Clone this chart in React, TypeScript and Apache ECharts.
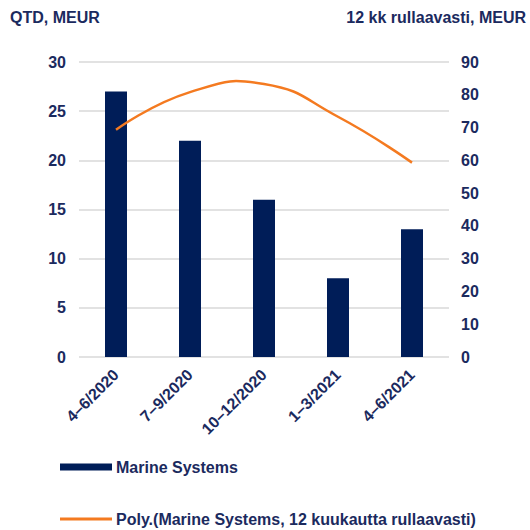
import React, { useEffect, useRef } from "react";
import * as echarts from "echarts";

const categories = ["4–6/2020", "7–9/2020", "10–12/2020", "1–3/2021", "4–6/2021"];
const quarterValues = [27, 22, 16, 8, 13];
const rollingTrend = [69.3, 80.8, 83.3, 73.3, 59.3];
const leftTicks = { min: 0, max: 30, interval: 5 };
const rightTicks = { min: 0, max: 90, interval: 10 };
const barName = "Marine Systems";
const lineName = "Poly.(Marine Systems, 12 kuukautta rullaavasti)";
const leftTitle = "QTD, MEUR";
const rightTitle = "12 kk rullaavasti, MEUR";

const NAVY = "#1b2a5e";
const BAR = "#001d58";
const ORANGE = "#f47a20";
const FONT = "'Liberation Sans', Arial, sans-serif";

export default function App() {
  const ref = useRef<HTMLDivElement>(null);
  useEffect(() => {
    if (!ref.current) return;
    const chart = echarts.init(ref.current, null, { renderer: "svg" });
    const labelStyle = { color: NAVY, fontSize: 16, fontWeight: "bold" as const, fontFamily: FONT };
    chart.setOption({
      animation: false,
      backgroundColor: "#ffffff",
      textStyle: { fontFamily: FONT },
      grid: { left: 79, right: 81, top: 62, bottom: 173, containLabel: false },
      graphic: [
        { type: "text", left: 10, top: 9, style: { text: leftTitle, fill: NAVY, font: `bold 16px ${FONT}` } },
        { type: "text", right: 4, top: 9, style: { text: rightTitle, fill: NAVY, font: `bold 16px ${FONT}` } },
      ],
      legend: [
        {
          orient: "vertical",
          left: 60,
          top: 459,
          padding: 0,
          itemWidth: 52,
          itemHeight: 7,
          textStyle: { ...labelStyle, padding: [0, 0, 0, -1] },
          data: [{ name: barName, icon: "rect" }],
        },
        {
          orient: "vertical",
          left: 60,
          top: 511,
          padding: 0,
          itemWidth: 52,
          itemHeight: 3,
          textStyle: { ...labelStyle, padding: [0, 0, 0, -1] },
          data: [{ name: lineName, icon: "rect" }],
        },
      ],
      xAxis: {
        type: "category",
        data: categories,
        axisLine: { show: false },
        axisTick: { show: false },
        axisLabel: { ...labelStyle, rotate: 45, margin: 15, interval: 0 },
      },
      yAxis: [
        {
          type: "value",
          ...leftTicks,
          axisLine: { show: false },
          axisTick: { show: false },
          axisLabel: { ...labelStyle, margin: 13 },
          splitLine: { lineStyle: { color: "#d9d9d9", width: 1.5 } },
        },
        {
          type: "value",
          ...rightTicks,
          position: "right",
          axisLine: { show: false },
          axisTick: { show: false },
          axisLabel: { ...labelStyle, margin: 12 },
          splitLine: { show: false },
        },
      ],
      series: [
        {
          name: barName,
          type: "bar",
          data: quarterValues,
          barWidth: 22,
          itemStyle: { color: BAR },
          yAxisIndex: 0,
          z: 2,
        },
        {
          name: lineName,
          type: "custom",
          yAxisIndex: 1,
          z: 5,
          data: rollingTrend.map((v, i) => [i, v]),
          encode: { x: 0, y: 1 },
          itemStyle: { color: ORANGE },
          renderItem: (params: any, api: any) => {
            if (params.dataIndex !== 0) return null;
            const pts = rollingTrend.map((v, i) => api.coord([i, v]));
            return {
              type: "polyline",
              z2: 10,
              shape: { points: pts, smooth: 0.5 },
              style: { stroke: ORANGE, lineWidth: 2.5, fill: "none" },
            };
          },
        },
      ],
    });
    return () => chart.dispose();
  }, []);
  return <div ref={ref} style={{ width: 530, height: 530, position: "absolute", left: 0, top: 0 }} />;
}
